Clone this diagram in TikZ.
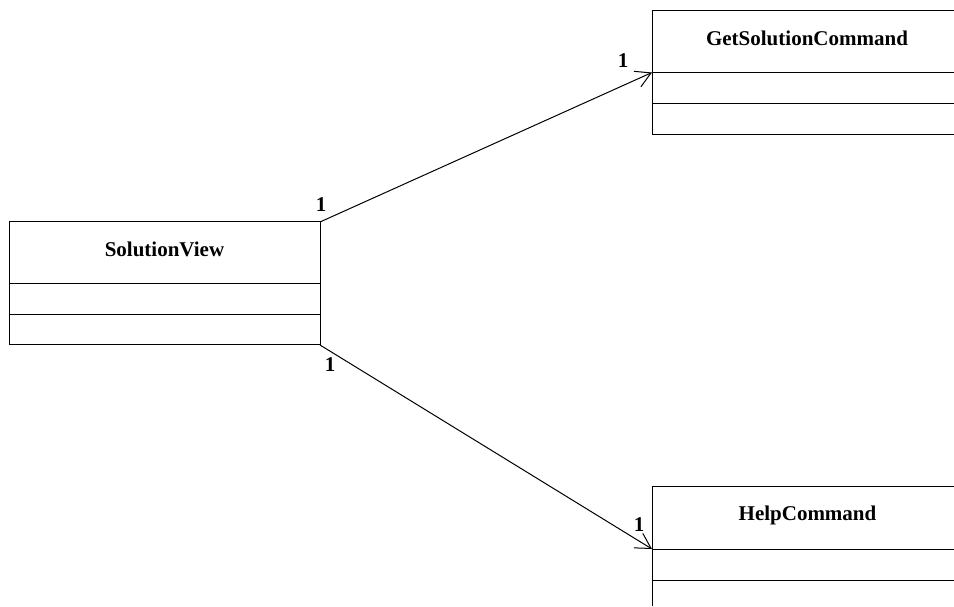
\documentclass[tikz,border=0pt]{standalone}
\usepackage{fontspec}
\setmainfont{Liberation Serif}
\usetikzlibrary{arrows.meta}
\begin{document}
\begin{tikzpicture}[x=1pt,y=1pt,line width=1pt,
  cname/.style={font=\fontsize{21}{21}\selectfont\bfseries, inner sep=0pt, anchor=base},
  mult/.style={font=\fontsize{21}{21}\selectfont\bfseries, inner sep=0pt, anchor=base},
  assoc/.style={-{Straight Barb[length=15pt,width=17pt,line width=1pt]}}]
\useasboundingbox (0,0) rectangle (954,606);
% SolutionView
\coordinate (svTL) at (9,384);
\coordinate (svBR) at (320,261);
\coordinate (svTR) at (320,384);
\draw (svTL) rectangle (svBR);
\draw (9,322.5) -- (320,322.5);
\draw (9,291) -- (320,291);
\node[cname] (sv) at (164.5,349) {SolutionView};
% GetSolutionCommand
\coordinate (gscTL) at (652,595.5);
\coordinate (gscD1) at (652,533.5);
\draw (954,595.5) -- (gscTL) -- (652,471.5) -- (954,471.5);
\draw (gscD1) -- (954,533.5);
\draw (652,502) -- (954,502);
\node[cname] (gsc) at (807,560) {GetSolutionCommand};
% HelpCommand
\coordinate (hcTL) at (652,120);
\coordinate (hcD1) at (652,57);
\draw (954,120) -- (hcTL) -- (652,0);
\draw (hcD1) -- (954,57);
\draw (652,26) -- (954,26);
\node[cname] (hc) at (807.5,85.3) {HelpCommand};
% associations
\draw[assoc] (svTR) -- (gscD1);
\draw[assoc] (svBR) -- (hcD1);
% multiplicities
\node[mult] (m1) at (321,394.3) {1};
\node[mult] (m2) at (623,538) {1};
\node[mult] (m3) at (330,234.3) {1};
\node[mult] (m4) at (639,74.3) {1};
\end{tikzpicture}
\end{document}
